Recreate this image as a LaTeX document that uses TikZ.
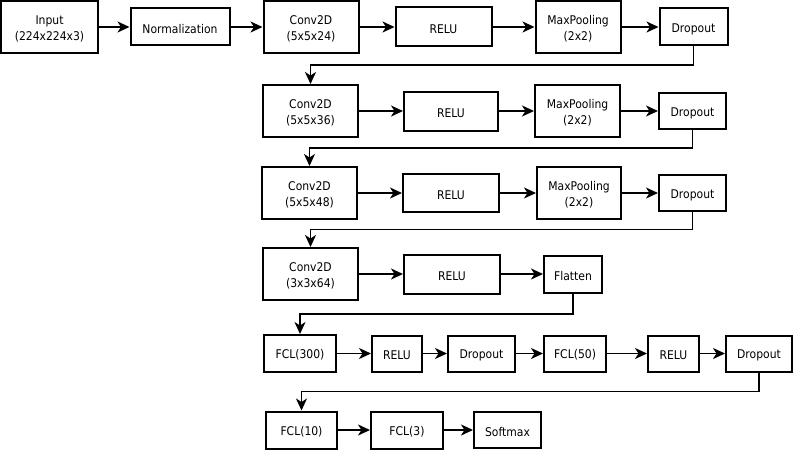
\documentclass[tikz,border=0pt]{standalone}
\usepackage{fontspec}
\setmainfont{DejaVu Sans}[FakeStretch=0.9]
\usetikzlibrary{arrows.meta,calc}
\begin{document}
\begin{tikzpicture}[x=1pt,y=-1pt,
  layer/.style={draw,line width=2pt,rectangle,inner sep=0pt,align=center,
    text height=12.5pt,font=\fontsize{12}{16}\selectfont},
  twoline/.style={layer,text height=29pt},
  arr/.style={line width=1.8pt,-{Stealth[length=12pt,width=11pt,inset=3.5pt]}},
  wrap/.style={line width=1.8pt,-{Stealth[length=12pt,width=11pt,inset=3.5pt]}}]
\useasboundingbox (0,0) rectangle (795,452);

% row 1
\node[twoline,minimum width=97pt,minimum height=52pt] (in) at (49.5,27) {Input\\(224x224x3)};
\node[layer,minimum width=99pt,minimum height=37pt] (norm) at (180,27) {Normalization};
\node[twoline,minimum width=95pt,minimum height=52pt] (c1) at (311,27) {Conv2D\\(5x5x24)};
\node[layer,minimum width=96pt,minimum height=39pt] (r1) at (443.5,27) {RELU};
\node[twoline,minimum width=85pt,minimum height=52pt] (m1) at (578,27) {MaxPooling\\(2x2)};
\node[layer,minimum width=68pt,minimum height=37pt] (d1) at (693.5,27) {Dropout};

% row 2
\node[twoline,minimum width=95pt,minimum height=52pt] (c2) at (310.5,111) {Conv2D\\(5x5x36)};
\node[layer,minimum width=94pt,minimum height=39pt] (r2) at (451,111) {RELU};
\node[twoline,minimum width=85pt,minimum height=52pt] (m2) at (577.5,111) {MaxPooling\\(2x2)};
\node[layer,minimum width=67pt,minimum height=36pt] (d2) at (692.5,111) {Dropout};

% row 3
\node[twoline,minimum width=95pt,minimum height=52pt] (c3) at (309.5,193) {Conv2D\\(5x5x48)};
\node[layer,minimum width=96pt,minimum height=38pt] (r3) at (451,193) {RELU};
\node[twoline,minimum width=84pt,minimum height=52pt] (m3) at (579,193) {MaxPooling\\(2x2)};
\node[layer,minimum width=67pt,minimum height=36pt] (d3) at (692.5,193) {Dropout};

% row 4
\node[twoline,minimum width=95pt,minimum height=52pt] (c4) at (310.5,274) {Conv2D\\(3x3x64)};
\node[layer,minimum width=96pt,minimum height=39pt] (r4) at (452,274) {RELU};
\node[layer,minimum width=58pt,minimum height=37pt] (fl) at (573,274) {Flatten};

% row 5
\node[layer,minimum width=72pt,minimum height=37pt] (f300) at (300,353.5) {FCL(300)};
\node[layer,minimum width=50pt,minimum height=36pt] (r5) at (397,353.5) {RELU};
\node[layer,minimum width=67pt,minimum height=36pt] (d5) at (481.5,353.5) {Dropout};
\node[layer,minimum width=62pt,minimum height=36pt] (f50) at (575,353.5) {FCL(50)};
\node[layer,minimum width=51pt,minimum height=36pt] (r6) at (673.5,353.5) {RELU};
\node[layer,minimum width=66pt,minimum height=36pt] (d6) at (759,353.5) {Dropout};

% row 6
\node[layer,minimum width=71pt,minimum height=37pt] (f10) at (301.5,430) {FCL(10)};
\node[layer,minimum width=72pt,minimum height=37pt] (f3) at (407,430) {FCL(3)};
\node[layer,minimum width=67pt,minimum height=36pt] (sm) at (507.5,430) {Softmax};

% straight links within each row
\foreach \a/\b in {in/norm,norm/c1,c1/r1,r1/m1,m1/d1,
                   c2/r2,r2/m2,m2/d2,
                   c3/r3,r3/m3,m3/d3,
                   c4/r4,r4/fl,
                   f300/r5,r5/d5,d5/f50,f50/r6,r6/d6,
                   f10/f3,f3/sm}
  \draw[arr] (\a.east) -- (\b.west);

% links that wrap to the next row
\foreach \a/\b in {d1/c2,d2/c3,d3/c4,fl/f300,d6/f10}
  \draw[wrap] (\a.south) |- ($(\a.south)!0.5!(\b.north)$) -| (\b.north);
\end{tikzpicture}
\end{document}
